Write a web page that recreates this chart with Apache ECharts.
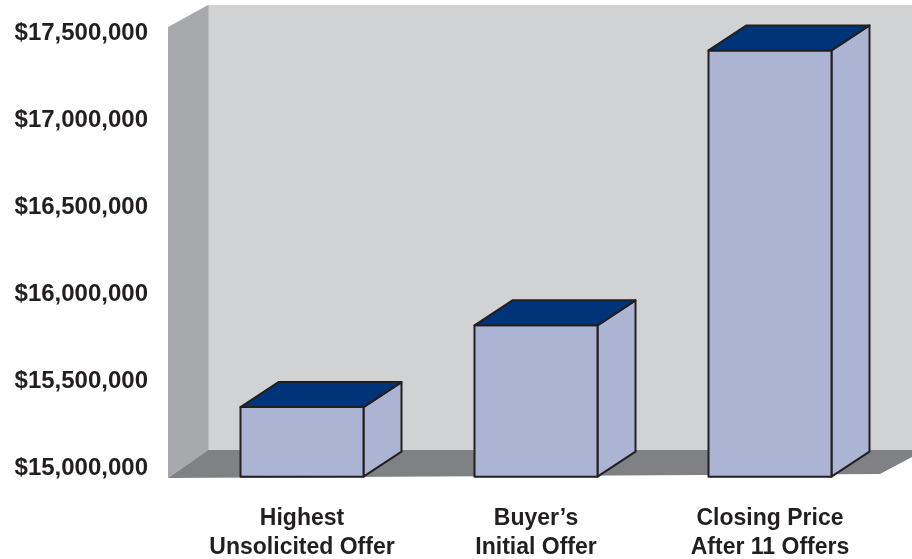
<!DOCTYPE html>
<html>
<head>
<meta charset="utf-8">
<script src="https://cdn.jsdelivr.net/npm/echarts@6/dist/echarts.min.js"></script>
<style>
  html, body { margin: 0; padding: 0; background: #fff; }
  #chart { width: 912px; height: 559px; }
</style>
</head>
<body>
<div id="chart"></div>
<script>
// data
const categories = ['Highest\nUnsolicited Offer', 'Buyer\u2019s\nInitial Offer', 'Closing Price\nAfter 11 Offers']
const prices = [15350000, 15820000, 17400000]
const yMin = 15000000
const yMax = 17500000
const yStep = 500000
const floorValue = 14950000 // front edge of the floor sits a little below the lowest tick

// 3d look
const barWidth = 123
const depthX = 38
const depthY = 25
const lineColor = '#231f20'
const font = '"Liberation Sans", Arial, Helvetica, sans-serif'

const chart = echarts.init(document.getElementById('chart'), null, { renderer: 'canvas' })

const renderBar = (params, api) => {
  const top = api.coord([api.value(0), api.value(1)])
  const base = api.coord([api.value(0), floorValue])
  const x0 = top[0] - barWidth / 2
  const x1 = top[0] + barWidth / 2
  const yT = top[1]
  const yB = base[1]
  const stroke = { stroke: lineColor, lineWidth: 2, lineJoin: 'round' }
  return {
    type: 'group',
    children: [
      {
        type: 'polygon',
        shape: { points: [[x1, yT], [x1 + depthX, yT - depthY], [x1 + depthX, yB - depthY], [x1, yB]] },
        style: Object.assign({ fill: '#abb4d2' }, stroke),
      },
      {
        type: 'rect',
        shape: { x: x0, y: yT, width: barWidth, height: yB - yT },
        style: Object.assign({ fill: '#abb4d2' }, stroke),
      },
      {
        type: 'polygon',
        shape: { points: [[x0, yT], [x0 + depthX, yT - depthY], [x1 + depthX, yT - depthY], [x1, yT]] },
        style: Object.assign({ fill: '#003478' }, stroke),
      },
    ],
  }
}

const option = {
  animation: false,
  backgroundColor: '#ffffff',
  textStyle: { fontFamily: font },
  grid: { left: 185, right: 25, top: 33, bottom: 91, containLabel: false, outerBoundsMode: 'none' },
  // walls and floor
  graphic: [
    { type: 'rect', z: 0, shape: { x: 208, y: 5, width: 704, height: 445 }, style: { fill: '#d1d2d4' } },
    { type: 'polygon', z: 0, shape: { points: [[168, 27], [208, 5], [208, 450], [168, 478]] }, style: { fill: '#a7a9ac' } },
    { type: 'line', z: 0, shape: { x1: 208.5, y1: 5, x2: 208.5, y2: 450 }, style: { stroke: '#bcbec0', lineWidth: 1 } },
    { type: 'polygon', z: 0, shape: { points: [[168, 478], [208, 450], [912, 450], [912, 457], [880, 474]] }, style: { fill: '#808184' } },
  ],
  xAxis: {
    type: 'category',
    data: categories,
    axisLine: { show: false },
    axisTick: { show: false },
    axisLabel: {
      interval: 0,
      hideOverlap: false,
      margin: 36,
      fontSize: 23,
      fontWeight: 'bold',
      fontFamily: font,
      lineHeight: 29,
      color: lineColor,
    },
  },
  yAxis: {
    type: 'value',
    min: yMin,
    max: yMax,
    interval: yStep,
    axisLine: { show: false },
    axisTick: { show: false },
    splitLine: { show: false },
    axisLabel: {
      margin: 37,
      fontSize: 24,
      fontWeight: 'bold',
      fontFamily: font,
      color: lineColor,
      formatter: (v) => '$' + v.toLocaleString('en-US'),
    },
  },
  series: [
    {
      type: 'custom',
      z: 2,
      clip: false,
      renderItem: renderBar,
      encode: { x: 0, y: 1 },
      data: prices.map((p, i) => [i, p]),
    },
  ],
}

chart.setOption(option)
</script>
</body>
</html>
